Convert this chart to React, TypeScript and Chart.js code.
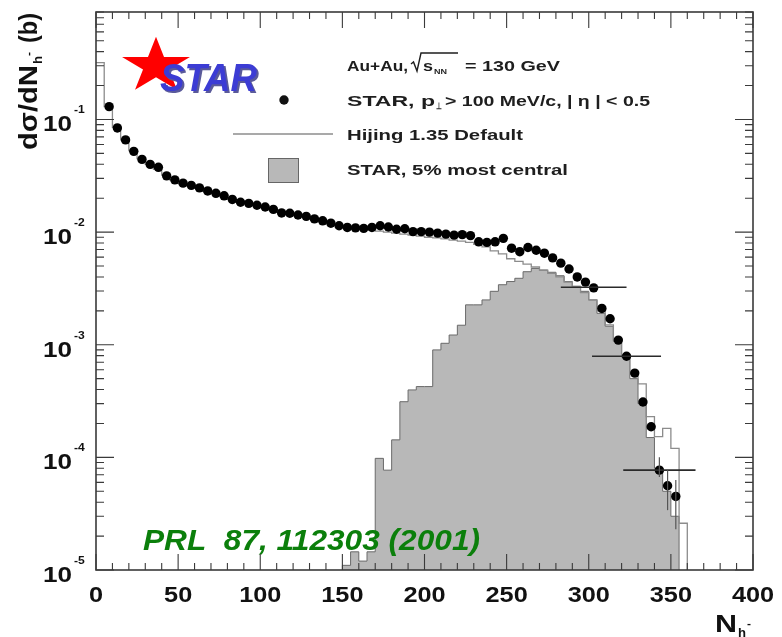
import React, { useEffect, useRef } from "react";
import { Chart, registerables } from "chart.js";

Chart.register(...registerables);

// ---------------- data ----------------
const dataN = [8, 13, 18, 23, 28, 33, 38, 43, 48, 53, 58, 63, 68, 73, 78, 83, 88, 93, 98, 103, 108, 113, 118, 123, 128, 133, 138, 143, 148, 153, 158, 163, 168, 173, 178, 183, 188, 193, 198, 203, 208, 213, 218, 223, 228, 233, 238, 243, 248, 253, 258, 263, 268, 273, 278, 283, 288, 293, 298, 303, 308, 313, 318, 323, 328, 333, 338, 343, 348, 353];
const dataY = [0.130, 0.0841, 0.0659, 0.0521, 0.0442, 0.0399, 0.0376, 0.0316, 0.0291, 0.0272, 0.0260, 0.0247, 0.0232, 0.0221, 0.0210, 0.0195, 0.0184, 0.0180, 0.0173, 0.0167, 0.0159, 0.0148, 0.0147, 0.0142, 0.0138, 0.0131, 0.0126, 0.0120, 0.0114, 0.0110, 0.0109, 0.0108, 0.0110, 0.0114, 0.0111, 0.0106, 0.0107, 0.0101, 0.0101, 0.0100, 0.0098, 0.0096, 0.0094, 0.0095, 0.0093, 0.0082, 0.0081, 0.0082, 0.0088, 0.0072, 0.0067, 0.0073, 0.0069, 0.0065, 0.0059, 0.0053, 0.0047, 0.0040, 0.0036, 0.0032, 0.0021, 0.0017, 0.0011, 0.00079, 0.00056, 0.00031, 0.000187, 0.000077, 0.000056, 0.000045];

const hijingEdges = [0, 5, 10, 15, 20, 25, 30, 35, 40, 45, 50, 55, 60, 65, 70, 75, 80, 85, 90, 95, 100, 105, 110, 115, 120, 125, 130, 135, 140, 145, 150, 155, 160, 165, 170, 175, 180, 185, 190, 195, 200, 205, 210, 215, 220, 225, 230, 235, 240, 245, 250, 255, 260, 265, 270, 275, 280, 285, 290, 295, 300, 305, 310, 315, 320, 325, 330, 335, 340, 345, 350, 355, 360];
const hijingValues = [0.32, 0.13, 0.085, 0.066, 0.053, 0.045, 0.040, 0.036, 0.032, 0.029, 0.027, 0.026, 0.0245, 0.023, 0.022, 0.021, 0.0195, 0.0185, 0.018, 0.0172, 0.0166, 0.0158, 0.0150, 0.0146, 0.0141, 0.0137, 0.0131, 0.0126, 0.0121, 0.0116, 0.0112, 0.0109, 0.0106, 0.0104, 0.0102, 0.0100, 0.0098, 0.0096, 0.0094, 0.0092, 0.0090, 0.0089, 0.0087, 0.0085, 0.0083, 0.0081, 0.0078, 0.0074, 0.0068, 0.0064, 0.0058, 0.0055, 0.0052, 0.0049, 0.0046, 0.0043, 0.0040, 0.0036, 0.0033, 0.0029, 0.0025, 0.0020, 0.0015, 0.0011, 0.00078, 0.00055, 0.00045, 0.00023, 0.000153, 0.000181, 0.00012, 0.000026];

const centralEdges = [150, 155, 160, 165, 170, 175, 180, 185, 190, 195, 200, 205, 210, 215, 220, 225, 230, 235, 240, 245, 250, 255, 260, 265, 270, 275, 280, 285, 290, 295, 300, 305, 310, 315, 320, 325, 330, 335, 340, 345, 350, 355];
const centralValues = [1.1e-5, 1.45e-5, 1.2e-5, 1.45e-5, 9.8e-5, 7.7e-5, 1.43e-4, 3.12e-4, 3.97e-4, 4.25e-4, 4.25e-4, 9.0e-4, 1.03e-3, 1.22e-3, 1.49e-3, 2.26e-3, 2.26e-3, 2.5e-3, 2.98e-3, 3.41e-3, 3.64e-3, 3.89e-3, 4.45e-3, 4.76e-3, 4.6e-3, 4.4e-3, 4.1e-3, 3.64e-3, 3.3e-3, 2.98e-3, 2.5e-3, 1.9e-3, 1.46e-3, 1.07e-3, 7.8e-4, 5.0e-4, 3.0e-4, 1.5e-4, 8.0e-5, 5.0e-5, 3.0e-5];

// systematic (horizontal) error bars
const xErrN = [303, 323, 343];
const xErrY = [0.00324, 0.00079, 0.000077];
const xErrHalf = [20, 21, 22];
// vertical error bars
const yErrN = [343, 348, 353];
const yErrLo = [0.000067, 0.000034, 0.000023];
const yErrHi = [0.0001, 0.000077, 0.000063];

const xTickLabels = [0, 50, 100, 150, 200, 250, 300, 350, 400];
const yTickExponents = [-5, -4, -3, -2, -1];

const X_MIN = 0;
const X_MAX = 400;
const Y_MIN = 1e-5;
const Y_MAX = 0.9;
const FLOOR = 1e-8;

const FONT = '"Liberation Sans", Arial, sans-serif';

type TextOpts = { width?: number; hscale?: number; align?: string; color?: string; weight?: string; style?: string };

function drawText(ctx: CanvasRenderingContext2D, text: string, x: number, y: number, size: number, opts: TextOpts = {}) {
  const { width, hscale, align = "left", color = "#1c1c1c", weight = "bold", style = "" } = opts;
  ctx.save();
  ctx.font = `${style} ${weight} ${size}px ${FONT}`;
  ctx.fillStyle = color;
  ctx.textBaseline = "alphabetic";
  ctx.textAlign = "left";
  const w = ctx.measureText(text).width;
  const s = width ? width / w : hscale || 1;
  let x0 = x;
  if (align === "center") x0 = x - (w * s) / 2;
  else if (align === "right") x0 = x - w * s;
  ctx.translate(x0, y);
  ctx.scale(s, 1);
  ctx.fillText(text, 0, 0);
  ctx.restore();
}

function drawStar(ctx: CanvasRenderingContext2D, cx: number, cy: number, rx: number, ry: number) {
  ctx.beginPath();
  for (let i = 0; i < 10; i++) {
    const r = i % 2 === 0 ? 1 : 0.382;
    const a = -Math.PI / 2 + (i * Math.PI) / 5;
    const px = cx + Math.cos(a) * r * rx;
    const py = cy + Math.sin(a) * r * ry;
    if (i === 0) ctx.moveTo(px, py);
    else ctx.lineTo(px, py);
  }
  ctx.closePath();
  ctx.fill();
}

const decorPlugin = {
  id: "decor",
  afterDatasetsDraw(chart: any) {
    const ctx: CanvasRenderingContext2D = chart.ctx;
    const x = chart.scales.x;
    const y = chart.scales.y;
    ctx.save();
    ctx.strokeStyle = "#2a2a2a";
    ctx.lineWidth = 1.6;
    xErrN.forEach((n, i) => {
      const py = y.getPixelForValue(xErrY[i]);
      ctx.beginPath();
      ctx.moveTo(x.getPixelForValue(n - xErrHalf[i]), py);
      ctx.lineTo(x.getPixelForValue(n + xErrHalf[i]), py);
      ctx.stroke();
    });
    ctx.strokeStyle = "#555";
    ctx.lineWidth = 1.2;
    yErrN.forEach((n, i) => {
      const px = x.getPixelForValue(n);
      ctx.beginPath();
      ctx.moveTo(px, y.getPixelForValue(yErrLo[i]));
      ctx.lineTo(px, y.getPixelForValue(yErrHi[i]));
      ctx.stroke();
    });
    ctx.restore();
  },
  afterDraw(chart: any) {
    const ctx: CanvasRenderingContext2D = chart.ctx;
    const x = chart.scales.x;
    const y = chart.scales.y;
    const { left, right, top, bottom } = chart.chartArea;

    // publication reference
    drawText(ctx, "PRL  87, 112303 (2001)", 143, 550, 30, { width: 337, color: "#0b7f0b", style: "italic" });

    // STAR logo
    ctx.save();
    ctx.fillStyle = "#ff0000";
    drawStar(ctx, 156, 66, 35.7, 29.3);
    ctx.restore();
    drawText(ctx, "STAR", 162, 93, 38, { width: 97, color: "#5a5a9a", style: "italic" });
    drawText(ctx, "STAR", 160, 91, 38, { width: 97, color: "#3c3cd4", style: "italic" });

    // legend
    const tc = "#1e1e1e";
    drawText(ctx, "Au+Au,", 347, 71, 15, { width: 61, color: tc });
    ctx.save();
    ctx.strokeStyle = tc;
    ctx.lineWidth = 1.4;
    ctx.beginPath();
    ctx.moveTo(411, 64);
    ctx.lineTo(413.5, 62);
    ctx.lineTo(417, 71);
    ctx.lineTo(421, 53);
    ctx.lineTo(458, 53);
    ctx.stroke();
    ctx.restore();
    drawText(ctx, "s", 423, 71, 15, { width: 10, color: tc });
    drawText(ctx, "NN", 434, 74, 8, { width: 13, color: tc });
    drawText(ctx, "= 130 GeV", 465, 71, 15, { width: 95, color: tc });

    drawText(ctx, "STAR, p", 347, 106, 15, { width: 88, color: tc });
    drawText(ctx, "\u22A5", 436, 109, 9, { width: 6, color: tc });
    drawText(ctx, "> 100 MeV/c, | \u03B7 | < 0.5", 445, 106, 15, { width: 205, color: tc });

    drawText(ctx, "Hijing 1.35 Default", 347, 140, 15, { width: 176, color: tc });
    drawText(ctx, "STAR, 5% most central", 347, 175, 15, { width: 221, color: tc });

    ctx.save();
    ctx.fillStyle = "#111";
    ctx.beginPath();
    ctx.arc(284, 100, 4.7, 0, Math.PI * 2);
    ctx.fill();
    ctx.strokeStyle = "#8c8c8c";
    ctx.lineWidth = 1.3;
    ctx.beginPath();
    ctx.moveTo(233, 134);
    ctx.lineTo(333, 134);
    ctx.stroke();
    ctx.fillStyle = "#b8b8b8";
    ctx.fillRect(268, 158, 31, 25);
    ctx.strokeStyle = "#666";
    ctx.lineWidth = 1;
    ctx.strokeRect(268.5, 158.5, 30, 24);
    ctx.restore();

    // frame
    ctx.save();
    ctx.strokeStyle = "#3a3a3a";
    ctx.lineWidth = 1.6;
    ctx.strokeRect(left, top, right - left, bottom - top);
    ctx.lineWidth = 1.1;
    ctx.beginPath();
    for (let v = X_MIN; v <= X_MAX; v += 10) {
      const px = x.getPixelForValue(v);
      const len = v % 50 === 0 ? 16 : 7;
      ctx.moveTo(px, bottom);
      ctx.lineTo(px, bottom - len);
      ctx.moveTo(px, top);
      ctx.lineTo(px, top + len);
    }
    for (let d = -5; d <= 0; d++) {
      for (let m = 1; m <= 9; m++) {
        const v = m * Math.pow(10, d);
        if (v < Y_MIN * 0.999 || v > Y_MAX) continue;
        const py = y.getPixelForValue(v);
        const len = m === 1 ? 18 : 8;
        ctx.moveTo(left, py);
        ctx.lineTo(left + len, py);
        ctx.moveTo(right, py);
        ctx.lineTo(right - len, py);
      }
    }
    ctx.stroke();
    ctx.restore();

    // tick labels
    xTickLabels.forEach((v) => {
      drawText(ctx, String(v), x.getPixelForValue(v), 602, 22, { hscale: 1.15, align: "center", color: "#111" });
    });
    yTickExponents.forEach((e) => {
      const py = y.getPixelForValue(Math.pow(10, e));
      drawText(ctx, "10", 72, py + 12, 22, { width: 29, align: "right", color: "#111" });
      drawText(ctx, String(e), 74, py - 6, 11, { hscale: 1.1, color: "#111" });
    });

    // x title
    drawText(ctx, "N", 715, 632, 24, { width: 22, color: "#111" });
    drawText(ctx, "h", 738, 637, 13, { width: 8, color: "#111" });
    drawText(ctx, "-", 747, 627, 11, { width: 4, color: "#111" });

    // y title (rotated)
    ctx.save();
    ctx.translate(37, 150);
    ctx.rotate(-Math.PI / 2);
    drawText(ctx, "d\u03C3/dN", 0, 0, 26, { width: 85, color: "#111" });
    drawText(ctx, "h", 86, 5, 13, { width: 8, color: "#111" });
    drawText(ctx, "-", 94, -5, 11, { width: 4, color: "#111" });
    drawText(ctx, "(b)", 107, 0, 26, { width: 30, color: "#111" });
    ctx.restore();
  },
};

export default function App() {
  const canvasRef = useRef<HTMLCanvasElement | null>(null);

  useEffect(() => {
    const canvas = canvasRef.current;
    if (!canvas) return;

    const centralPts: { x: number; y: number }[] = [{ x: centralEdges[0], y: FLOOR }];
    centralValues.forEach((v, i) => centralPts.push({ x: centralEdges[i], y: v }));
    centralPts.push({ x: centralEdges[centralEdges.length - 1], y: FLOOR });

    const hijingPts: { x: number; y: number }[] = [];
    hijingValues.forEach((v, i) => hijingPts.push({ x: hijingEdges[i], y: v }));
    hijingPts.push({ x: hijingEdges[hijingEdges.length - 1], y: FLOOR });

    const starPts = dataN.map((n, i) => ({ x: n, y: dataY[i] }));

    const chart = new Chart(canvas, {
      type: "line",
      data: {
        datasets: [
          {
            label: "STAR, p\u22A5 > 100 MeV/c, |\u03B7| < 0.5",
            data: starPts,
            showLine: false,
            pointRadius: 4.7,
            pointBackgroundColor: "#000",
            pointBorderColor: "#000",
            pointBorderWidth: 0,
            order: 1,
          },
          {
            label: "Hijing 1.35 Default",
            data: hijingPts,
            stepped: "before",
            borderColor: "#8c8c8c",
            borderWidth: 1.3,
            pointRadius: 0,
            fill: false,
            order: 2,
          },
          {
            label: "STAR, 5% most central",
            data: centralPts,
            stepped: "before",
            borderColor: "#6a6a6a",
            borderWidth: 1,
            backgroundColor: "#b8b8b8",
            pointRadius: 0,
            fill: "start",
            order: 3,
          },
        ],
      },
      options: {
        responsive: false,
        animation: false,
        devicePixelRatio: 1,
        layout: { padding: { left: 96, right: 29, top: 12, bottom: 67 } },
        scales: {
          x: { type: "linear", min: X_MIN, max: X_MAX, display: false },
          y: { type: "logarithmic", min: Y_MIN, max: Y_MAX, display: false },
        },
        plugins: { legend: { display: false }, tooltip: { enabled: false } },
      },
      plugins: [decorPlugin],
    } as any);

    return () => chart.destroy();
  }, []);

  return (
    <div style={{ position: "fixed", left: 0, top: 0, width: 782, height: 637, background: "#fff" }}>
      <canvas ref={canvasRef} width={782} height={637} style={{ display: "block" }} />
    </div>
  );
}
